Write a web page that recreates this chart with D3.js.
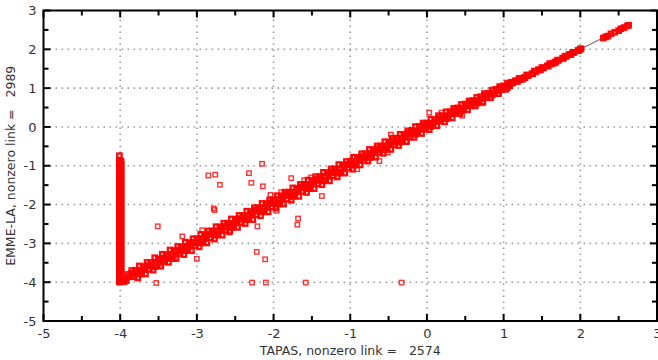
<!DOCTYPE html>
<html>
<head>
<meta charset="utf-8">
<script src="https://cdn.jsdelivr.net/npm/d3@7"></script>
<style>
  body { margin: 0; background: #fff; }
  svg { display: block; font-family: "DejaVu Sans", Verdana, sans-serif; }
</style>
</head>
<body>
<div id="chart"></div>
<script>
// ---- data ----
var xTitle = "TAPAS, nonzero link =   2574";
var yTitle = "EMME-LA, nonzero link =   2989";
var majorTicks = [-5, -4, -3, -2, -1, 0, 1, 2, 3];
var minorTicks = [-4.5, -3.5, -2.5, -1.5, -0.5, 0.5, 1.5, 2.5];
var gridValues = [-4, -3, -2, -1, 0, 1, 2];

// main diagonal band (middle rows)
var bandA = [[-3.98,-3.95],[-3.93,-3.92],[-3.88,-3.86],[-3.83,-3.80],[-3.78,-3.74],[-3.73,-3.70],[-3.68,-3.66],[-3.63,-3.58],
  [-3.58,-3.55],[-3.53,-3.50],[-3.48,-3.43],[-3.43,-3.41],[-3.38,-3.34],[-3.33,-3.30],[-3.28,-3.22],[-3.23,-3.20],[-3.18,-3.15],
  [-3.13,-3.08],[-3.08,-3.05],[-3.03,-2.99],[-2.98,-2.93],[-2.93,-2.88],[-2.88,-2.84],[-2.83,-2.77],[-2.78,-2.74],[-2.73,-2.68],
  [-2.68,-2.63],[-2.63,-2.58],[-2.58,-2.52],[-2.53,-2.49],[-2.48,-2.42],[-2.43,-2.38],[-2.38,-2.33],[-2.33,-2.27],[-2.28,-2.23],
  [-2.23,-2.17],[-2.18,-2.12],[-2.13,-2.08],[-2.08,-2.02],[-2.03,-1.97],[-1.98,-1.92],[-1.93,-1.87],[-1.88,-1.82],[-1.83,-1.77],
  [-1.78,-1.72],[-1.73,-1.68],[-1.68,-1.62],[-1.63,-1.57],[-1.58,-1.53],[-1.53,-1.48],[-1.48,-1.42],[-1.43,-1.38],[-1.38,-1.33],
  [-1.33,-1.28],[-1.28,-1.23],[-1.23,-1.18],[-1.18,-1.13],[-1.13,-1.08],[-1.08,-1.03],[-1.03,-0.98],[-0.98,-0.94],[-0.93,-0.89],
  [-0.88,-0.84],[-0.83,-0.79],[-0.78,-0.74],[-0.73,-0.69],[-0.68,-0.64],[-0.63,-0.59],[-0.58,-0.54],[-0.53,-0.49],[-0.48,-0.44],
  [-0.43,-0.39],[-0.38,-0.34],[-0.33,-0.29],[-0.28,-0.24],[-0.23,-0.19],[-0.18,-0.14],[-0.13,-0.10],[-0.08,-0.05],[-0.03,0.00],
  [0.02,0.05],[0.07,0.10],[0.12,0.14],[0.17,0.19],[0.22,0.24],[0.27,0.29],[0.32,0.34],[0.37,0.39],[0.42,0.44],[0.47,0.49],
  [0.52,0.54],[0.57,0.59],[0.62,0.64],[0.67,0.68],[0.72,0.73],[0.77,0.78],[0.82,0.83],[0.87,0.88],[0.92,0.93],[0.97,0.98],
  [1.02,1.03],[1.07,1.08],[1.12,1.13],[1.17,1.18],[1.22,1.22],[1.27,1.27],[1.32,1.32],[1.37,1.37],[1.42,1.42],[1.47,1.47],
  [1.52,1.52],[1.57,1.57],[1.62,1.62],[1.67,1.67],[1.72,1.72],[1.77,1.77],[1.82,1.82],[1.87,1.87],[1.92,1.92],[1.97,1.97],[2.01,2.01]];
var bandB = [[-3.95,-3.99],[-3.85,-3.77],[-3.75,-3.79],[-3.65,-3.58],[-3.55,-3.60],[-3.45,-3.38],[-3.35,-3.39],[-3.25,-3.17],
  [-3.15,-3.19],[-3.05,-2.97],[-2.95,-2.99],[-2.85,-2.76],[-2.75,-2.79],[-2.65,-2.56],[-2.55,-2.59],[-2.45,-2.36],[-2.35,-2.39],
  [-2.25,-2.15],[-2.15,-2.19],[-2.05,-1.95],[-1.95,-1.99],[-1.85,-1.74],[-1.75,-1.79],[-1.65,-1.55],[-1.55,-1.59],[-1.45,-1.35],
  [-1.35,-1.39],[-1.25,-1.15],[-1.15,-1.19],[-1.05,-0.96],[-0.95,-0.99],[-0.85,-0.76],[-0.75,-0.79],[-0.65,-0.56],[-0.55,-0.59],
  [-0.45,-0.36],[-0.35,-0.39],[-0.25,-0.16],[-0.15,-0.19],[-0.05,0.04],[0.05,0.01],[0.15,0.22],[0.25,0.21],[0.35,0.42],
  [0.45,0.41],[0.55,0.62],[0.65,0.61],[0.75,0.81],[0.85,0.82],[0.95,1.00],[1.05,1.02],[1.15,1.19],[1.25,1.23],[1.45,1.47],
  [1.65,1.64],[1.85,1.86]];
// upper edge of the band
var bandC = [[-3.90,-3.80],[-3.80,-3.69],[-3.70,-3.60],[-3.60,-3.49],[-3.50,-3.40],[-3.40,-3.29],[-3.30,-3.19],[-3.20,-3.09],
  [-3.10,-2.99],[-3.00,-2.88],[-2.90,-2.79],[-2.80,-2.68],[-2.70,-2.58],[-2.60,-2.48],[-2.50,-2.38],[-2.40,-2.28],[-2.30,-2.18],
  [-2.20,-2.08],[-2.10,-1.98],[-2.00,-1.88],[-1.90,-1.78],[-1.80,-1.68],[-1.70,-1.58],[-1.60,-1.48],[-1.50,-1.38],[-1.40,-1.28],
  [-1.30,-1.18],[-1.20,-1.08],[-1.10,-0.98],[-1.00,-0.89],[-0.90,-0.79],[-0.80,-0.69],[-0.70,-0.59],[-0.60,-0.49],[-0.50,-0.39],
  [-0.40,-0.29],[-0.30,-0.19],[-0.20,-0.09],[-0.10,0.01],[0.00,0.10],[0.10,0.19],[0.20,0.29],[0.30,0.39],[0.40,0.49],
  [0.50,0.59],[0.60,0.68],[0.70,0.78],[0.80,0.87],[0.90,0.97],[1.00,1.06],[1.10,1.15],[1.20,1.25],[1.30,1.34],[1.40,1.44],
  [1.50,1.53],[1.60,1.63],[1.70,1.72],[1.80,1.82],[1.90,1.92],[2.00,2.01]];
// lower edge of the band
var bandD = [[-3.92,-3.96],[-3.82,-3.86],[-3.72,-3.77],[-3.62,-3.67],[-3.52,-3.57],[-3.42,-3.47],[-3.32,-3.37],[-3.22,-3.26],
  [-3.12,-3.16],[-3.02,-3.06],[-2.92,-2.96],[-2.82,-2.86],[-2.72,-2.76],[-2.62,-2.66],[-2.52,-2.56],[-2.42,-2.46],[-2.32,-2.36],
  [-2.22,-2.26],[-2.12,-2.16],[-2.02,-2.06],[-1.92,-1.96],[-1.82,-1.86],[-1.72,-1.76],[-1.62,-1.66],[-1.52,-1.56],[-1.42,-1.46],
  [-1.32,-1.36],[-1.22,-1.26],[-1.12,-1.16],[-1.02,-1.06],[-0.92,-0.96],[-0.82,-0.86],[-0.72,-0.76],[-0.62,-0.66],[-0.52,-0.56],
  [-0.42,-0.46],[-0.32,-0.36],[-0.22,-0.26],[-0.12,-0.15],[-0.02,-0.05],[0.08,0.05],[0.18,0.15],[0.28,0.25],[0.38,0.35],
  [0.48,0.45],[0.58,0.55],[0.68,0.66],[0.78,0.76],[0.88,0.86],[0.98,0.96],[1.08,1.06],[1.18,1.17],[1.28,1.27],[1.38,1.37],
  [1.48,1.47],[1.58,1.57],[1.68,1.67],[1.78,1.77],[1.88,1.87],[1.98,1.97]];
// outer rows, where the band is widest
var bandE = [[-3.85,-3.70],[-3.75,-3.58],[-3.65,-3.49],[-3.55,-3.37],[-3.45,-3.28],[-3.35,-3.17],[-3.25,-3.08],[-3.15,-2.97],
  [-3.05,-2.88],[-2.95,-2.77],[-2.85,-2.68],[-2.75,-2.57],[-2.65,-2.48],[-2.55,-2.37],[-2.45,-2.28],[-2.35,-2.17],[-2.25,-2.08],
  [-2.15,-1.97],[-2.05,-1.88],[-1.95,-1.77],[-1.85,-1.68],[-1.75,-1.57],[-1.65,-1.48],[-1.55,-1.37],[-1.45,-1.28],[-1.35,-1.17],
  [-1.25,-1.08],[-1.15,-0.97],[-1.05,-0.89],[-0.95,-0.78],[-0.85,-0.69],[-0.75,-0.58],[-0.65,-0.49],[-0.55,-0.38],[-0.45,-0.29],
  [-0.35,-0.19],[-0.25,-0.10],[-0.15,0.01],[-0.05,0.10],[0.05,0.20],[0.15,0.29],[0.25,0.39],[0.35,0.48],[0.45,0.58],
  [0.55,0.67],[0.65,0.76],[0.75,0.86],[0.85,0.95],[0.95,1.04],[1.05,1.13]];
var bandF = [[-3.77,-3.89],[-3.67,-3.79],[-3.57,-3.69],[-3.47,-3.59],[-3.37,-3.49],[-3.27,-3.39],[-3.17,-3.29],[-3.07,-3.19],
  [-2.97,-3.09],[-2.87,-2.99],[-2.77,-2.89],[-2.67,-2.79],[-2.57,-2.69],[-2.47,-2.59],[-2.37,-2.49],[-2.27,-2.39],[-2.17,-2.29],
  [-2.07,-2.19],[-1.97,-2.09],[-1.87,-1.99],[-1.77,-1.89],[-1.67,-1.79],[-1.57,-1.69],[-1.47,-1.59],[-1.37,-1.49],[-1.27,-1.39],
  [-1.17,-1.29],[-1.07,-1.19],[-0.97,-1.09],[-0.87,-0.98],[-0.77,-0.88],[-0.67,-0.78],[-0.57,-0.68],[-0.47,-0.58],[-0.37,-0.48],
  [-0.27,-0.38],[-0.17,-0.27],[-0.07,-0.17],[0.03,-0.07],[0.13,0.03],[0.23,0.13],[0.33,0.23],[0.43,0.34],[0.53,0.44],
  [0.63,0.54],[0.73,0.65],[0.83,0.75],[0.93,0.86],[1.03,0.97]];
var bandTop = [[2.30,2.29],[2.33,2.32],[2.36,2.34],[2.40,2.40],[2.45,2.44],[2.50,2.48],[2.53,2.53],[2.57,2.56],[2.61,2.60],[2.63,2.62]];

// column of links where TAPAS is at the floor (-4)
var columnY = [-4.00,-3.96,-3.91,-3.87,-3.82,-3.78,-3.73,-3.69,-3.64,-3.60,-3.55,-3.50,-3.46,-3.41,-3.37,-3.32,-3.28,-3.23,
  -3.18,-3.14,-3.09,-3.05,-3.00,-2.95,-2.91,-2.86,-2.82,-2.77,-2.72,-2.68,-2.63,-2.59,-2.54,-2.49,-2.45,-2.40,-2.36,-2.31,
  -2.26,-2.22,-2.17,-2.13,-2.08,-2.03,-1.99,-1.94,-1.90,-1.85,-1.80,-1.76,-1.71,-1.67,-1.62,-1.57,-1.53,-1.48,-1.44,-1.39,
  -1.35,-1.30,-1.25,-1.21,-1.16,-1.11,-1.06,-1.01,-0.95,-0.90,-0.86,-0.74];
var columnY2 = [-3.98,-3.93,-3.89,-3.84,-3.80,-3.75,-3.71,-3.66,-3.62,-3.57,-3.52,-3.48,-3.43,-3.39,-3.34,-3.30,-3.25,-3.20,
  -3.16,-3.11,-3.07,-3.02,-2.97,-2.93,-2.88,-2.84,-2.79,-2.74,-2.70,-2.65,-2.61,-2.56,-2.51,-2.47,-2.42,-2.38,-2.33,-2.28,
  -2.24,-2.19,-2.15,-2.10,-2.05,-2.01,-1.96,-1.92,-1.87,-1.82,-1.78,-1.73,-1.69,-1.64,-1.59,-1.55,-1.50,-1.46,-1.41,-1.37,
  -1.32,-1.27,-1.23,-1.18,-1.13,-1.08,-1.03,-0.98,-0.92,-0.88];

// scattered points off the band
var outliers = [[-3.51,-2.56],[-3.53,-4.02],[-3.19,-2.82],[-3.00,-3.40],[-2.85,-1.25],[-2.76,-1.23],[-2.70,-1.49],
  [-2.78,-2.10],[-2.77,-2.14],[-2.32,-1.19],[-2.15,-0.95],[-2.29,-1.44],[-2.14,-1.53],[-2.04,-1.75],[-2.21,-2.56],[-2.22,-3.22],
  [-2.11,-3.41],[-2.28,-4.01],[-2.10,-4.01],[-2.93,-2.66],[-2.58,-2.72],[-1.58,-4.01],[-0.33,-4.01],[-1.77,-1.32],
  [-1.90,-1.68],[-1.37,-1.78],[-1.68,-2.36],[-1.69,-2.52],[-1.96,-2.16],[-1.51,-1.30],[-1.60,-1.37],[-0.97,-0.78],
  [-0.91,-1.09],[-0.62,-0.88],[-0.51,-0.66],[-0.47,-0.20],[-0.26,-0.37],[0.03,0.37],[0.19,0.37],[0.46,0.29],[0.73,0.61],
  [0.94,0.85],[-3.47,-3.52],[-3.30,-3.40]];

// ---- drawing ----
var W = 658, H = 360;
var svg = d3.select("#chart").append("svg").attr("width", W).attr("height", H);

var x = d3.scaleLinear().domain([-5, 3]).range([43.5, 657]);
var y = d3.scaleLinear().domain([-5, 3]).range([321, 10.5]);

// dotted grid
var grid = svg.append("g").attr("stroke", "#9a9a9a").attr("stroke-width", 1.6).attr("stroke-dasharray", "1.6,4.4");
grid.selectAll("line.gx").data(gridValues).enter().append("line")
  .attr("x1", d => x(d)).attr("x2", d => x(d)).attr("y1", y(-5)).attr("y2", y(3));
grid.selectAll("line.gy").data(gridValues).enter().append("line")
  .attr("y1", d => y(d)).attr("y2", d => y(d)).attr("x1", x(-5)).attr("x2", x(3));

// y = x reference line
svg.append("line")
  .attr("x1", x(-4)).attr("y1", y(-4)).attr("x2", x(2.62)).attr("y2", y(2.62))
  .attr("stroke", "#777").attr("stroke-width", 1.2);

var dense = [];
[bandE, bandF, bandD, bandC, bandA, bandB, bandTop].forEach(arr => arr.forEach(d => dense.push(d)));
columnY.forEach(v => dense.push([-4.01, v]));
columnY2.forEach(v => dense.push([-3.99, v]));

var s = 4.4;
function squares(data, sw, op) {
  svg.append("g").selectAll("rect").data(data).enter().append("rect")
    .attr("x", d => x(d[0]) - s / 2).attr("y", d => y(d[1]) - s / 2)
    .attr("width", s).attr("height", s)
    .attr("fill", "none").attr("stroke", "#ff0000").attr("stroke-width", sw)
    .attr("stroke-opacity", op);
}
squares(dense, 2.3, 0.95);
squares(outliers, 1.4, 0.8);

// frame
svg.append("rect").attr("x", x(-5)).attr("y", y(3))
  .attr("width", x(3) - x(-5)).attr("height", y(-5) - y(3))
  .attr("fill", "none").attr("stroke", "#000").attr("stroke-width", 2);

// inward ticks on all four sides
function ticks(vals, len) {
  var g = svg.append("g").attr("stroke", "#000").attr("stroke-width", 2);
  vals.forEach(function (v) {
    g.append("line").attr("x1", x(v)).attr("x2", x(v)).attr("y1", y(-5)).attr("y2", y(-5) - len);
    g.append("line").attr("x1", x(v)).attr("x2", x(v)).attr("y1", y(3)).attr("y2", y(3) + len);
    g.append("line").attr("y1", y(v)).attr("y2", y(v)).attr("x1", x(-5)).attr("x2", x(-5) + len);
    g.append("line").attr("y1", y(v)).attr("y2", y(v)).attr("x1", x(3)).attr("x2", x(3) - len);
  });
}
ticks(majorTicks, 7);
ticks(minorTicks, 5);

// tick labels through d3 axes (lines hidden)
var xAxis = svg.append("g").attr("transform", "translate(0," + y(-5) + ")")
  .call(d3.axisBottom(x).tickValues(majorTicks).tickSize(0).tickPadding(8));
var yAxis = svg.append("g").attr("transform", "translate(" + x(-5) + ",0)")
  .call(d3.axisLeft(y).tickValues(majorTicks).tickSize(0).tickPadding(7));
[xAxis, yAxis].forEach(function (a) {
  a.select(".domain").remove();
  // the reference uses a plain hyphen as the minus sign
  a.selectAll("text").text(d => String(d))
    .attr("font-family", "DejaVu Sans, Verdana, sans-serif")
    .attr("font-size", 13).attr("fill", "#333");
});

// titles
svg.append("text").attr("x", (x(-5) + x(3)) / 2).attr("y", 355)
  .attr("text-anchor", "middle").attr("font-size", 12.5).attr("fill", "#333")
  .style("white-space", "pre").text(xTitle);
svg.append("text").attr("transform", "translate(15," + (y(-5) + y(3)) / 2 + ") rotate(-90)")
  .attr("text-anchor", "middle").attr("font-size", 12.5).attr("fill", "#333")
  .style("white-space", "pre").text(yTitle);
</script>
</body>
</html>
